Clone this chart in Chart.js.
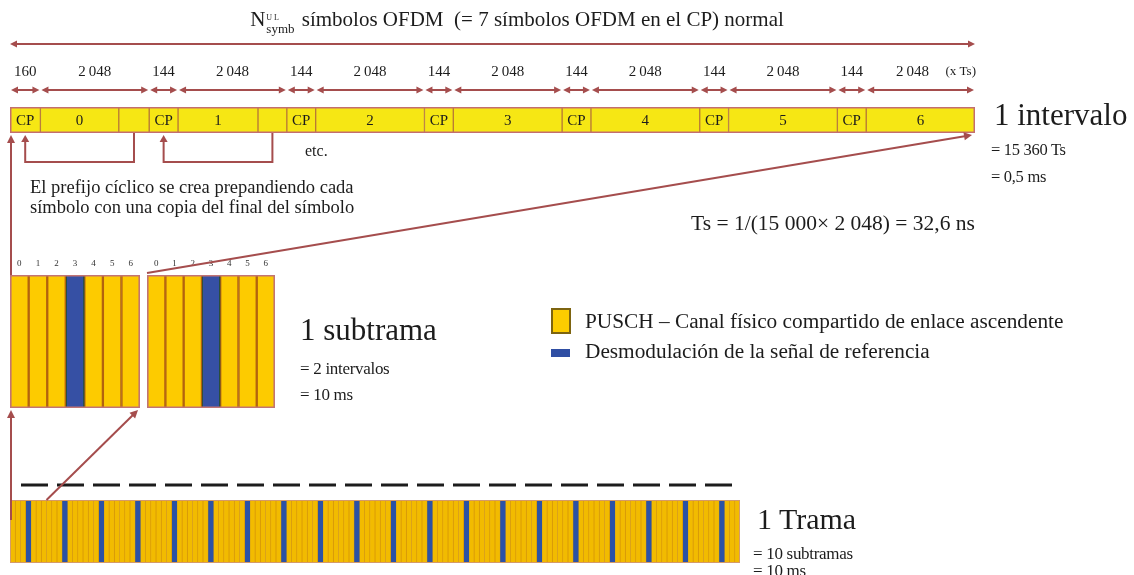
<!doctype html>
<html lang="es">
<head>
<meta charset="utf-8">
<title>Estructura de trama PUSCH</title>
<script src="https://cdn.jsdelivr.net/npm/chart.js@4.4.1/dist/chart.umd.min.js"></script>
<style>
    body { margin: 0; width: 1134px; height: 575px; position: relative; overflow: hidden; background: #fff;
           font-family: "Liberation Serif", "DejaVu Serif", serif; color: #1c1c1c; }
    canvas { position: absolute; }
    .t { position: absolute; white-space: nowrap; line-height: 1; }
    .ss { display: inline-block; vertical-align: -7px; line-height: 1; text-align: left; margin: 0 2px 0 1px; }
    .ss span { display: block; }
    .box { position: absolute; }
    .note { letter-spacing: -0.3px; }
</style>
</head>
<body>

<canvas id="slot" width="1134" height="200" style="left:0;top:0"></canvas>
<canvas id="subA" width="145" height="165" style="left:0;top:250px"></canvas>
<canvas id="subB" width="140" height="165" style="left:145px;top:250px"></canvas>
<canvas id="frame" width="760" height="100" style="left:0;top:475px"></canvas>
<canvas id="links" width="1134" height="575" style="left:0;top:0"></canvas>

<div class="t" style="left:0;width:1034px;text-align:center;top:9px;font-size:21px">N<span class="ss"><span style="font-size:8px;letter-spacing:2px">UL</span><span style="font-size:13px">symb</span></span> símbolos OFDM&nbsp; (= 7 símbolos OFDM en el CP) normal</div>

<div class="t" style="left:305px;top:143px;font-size:16px">etc.</div>
<div class="t" style="left:30px;top:177px;font-size:18.5px;line-height:20px">El prefijo cíclico se crea prepandiendo cada<br>símbolo con una copia del final del símbolo</div>

<div class="t" style="left:994px;top:99px;font-size:31px">1 intervalo</div>
<div class="t note" style="left:991px;top:142px;font-size:16.5px">= 15 360 Ts</div>
<div class="t note" style="left:991px;top:169px;font-size:16.5px">= 0,5 ms</div>
<div class="t" style="right:159px;top:213px;font-size:21.5px">Ts = 1/(15 000× 2 048) = 32,6 ns</div>

<div class="t" style="left:300px;top:314px;font-size:31px">1 subtrama</div>
<div class="t note" style="left:300px;top:360px;font-size:17px">= 2 intervalos</div>
<div class="t note" style="left:300px;top:386px;font-size:17px">= 10 ms</div>

<div class="box" style="left:551px;top:308px;width:16px;height:22px;background:#fccc00;border:2px solid #7d6410"></div>
<div class="t" style="left:585px;top:311px;font-size:21.3px">PUSCH – Canal físico compartido de enlace ascendente</div>
<div class="box" style="left:551px;top:349px;width:19px;height:8px;background:#2f4ea3"></div>
<div class="t" style="left:585px;top:341px;font-size:21.3px">Desmodulación de la señal de referencia</div>

<div class="t" style="left:757px;top:504px;font-size:30px">1 Trama</div>
<div class="t note" style="left:753px;top:545px;font-size:17px">= 10 subtramas</div>
<div class="t note" style="left:753px;top:562px;font-size:17px">= 10 ms</div>

<script>
    // ---- datos (en Ts) ----
    var symbolIds = ['0', '1', '2', '3', '4', '5', '6'];
    var cpLen = [160, 144, 144, 144, 144, 144, 144];
    var symLen = [2048, 2048, 2048, 2048, 2048, 2048, 2048];
    var copyShown = [true, true, false, false, false, false, false];
    var dmrsSymbol = 3;
    var slotsPerSubframe = 2;
    var subframesPerFrame = 10;

    var LINE = '#a54d4d';
    var SERIF = '"Liberation Serif", "DejaVu Serif", serif';

    function fmt(n) {
        if (n < 1000) return String(n);
        return Math.floor(n / 1000) + '\u2009' + String(n % 1000).padStart(3, '0');
    }

    function head(ctx, x, y, ang, len, half) {
        ctx.save();
        ctx.translate(x, y);
        ctx.rotate(ang);
        ctx.beginPath();
        ctx.moveTo(0, 0);
        ctx.lineTo(-len, -half);
        ctx.lineTo(-len, half);
        ctx.closePath();
        ctx.fill();
        ctx.restore();
    }

    function dimArrow(ctx, x1, x2, y) {
        ctx.beginPath();
        ctx.moveTo(x1 + 4, y);
        ctx.lineTo(x2 - 4, y);
        ctx.stroke();
        head(ctx, x1, y, Math.PI, 7, 3.5);
        head(ctx, x2, y, 0, 7, 3.5);
    }

    // el intervalo se dibuja esquemático: ancho = raíz de la duración
    var slotSegs = [];
    symbolIds.forEach(function (id, i) {
        slotSegs.push({ kind: 'cp', sym: i, w: Math.sqrt(cpLen[i]) });
        if (copyShown[i]) {
            slotSegs.push({ kind: 'body', sym: i, w: Math.sqrt(symLen[i]) - Math.sqrt(cpLen[i]) });
            slotSegs.push({ kind: 'tail', sym: i, w: Math.sqrt(cpLen[i]) });
        } else {
            slotSegs.push({ kind: 'body', sym: i, w: Math.sqrt(symLen[i]) });
        }
    });
    var slotWidth = slotSegs.reduce(function (a, s) { return a + s.w; }, 0);

    function segSpan(chart, di) {
        var el = chart.getDatasetMeta(di).data[0];
        return [Math.min(el.base, el.x), Math.max(el.base, el.x)];
    }

    var slotDecor = {
        id: 'slotDecor',
        afterDatasetsDraw: function (chart) {
            var ctx = chart.ctx, a = chart.chartArea;
            var midY = (a.top + a.bottom) / 2;
            ctx.save();
            ctx.strokeStyle = '#c46e6e';
            ctx.lineWidth = 1.5;
            ctx.strokeRect(a.left + 0.75, a.top + 0.75, a.right - a.left - 1.5, a.bottom - a.top - 1.5);

            ctx.fillStyle = '#1c1c1c';
            ctx.font = '15px ' + SERIF;
            ctx.textAlign = 'center';
            ctx.textBaseline = 'middle';
            var groups = [], spans = {};
            slotSegs.forEach(function (s, di) {
                var sp = segSpan(chart, di);
                spans[s.kind + s.sym] = sp;
                if (s.kind === 'cp') ctx.fillText('CP', (sp[0] + sp[1]) / 2, midY + 1);
                if (s.kind === 'body') ctx.fillText(symbolIds[s.sym], (sp[0] + sp[1]) / 2, midY + 1);
                var key = s.kind === 'cp' ? 'cp' : 'sym';
                var last = groups[groups.length - 1];
                if (last && last.sym === s.sym && last.key === key) last.end = sp[1];
                else groups.push({ sym: s.sym, key: key, start: sp[0], end: sp[1],
                                   value: key === 'cp' ? cpLen[s.sym] : symLen[s.sym] });
            });

            // cotas
            ctx.strokeStyle = LINE;
            ctx.fillStyle = LINE;
            ctx.lineWidth = 2;
            groups.forEach(function (g) { dimArrow(ctx, g.start + 1, g.end - 1, a.top - 17); });
            dimArrow(ctx, a.left, a.right, a.top - 63);

            ctx.fillStyle = '#1c1c1c';
            ctx.font = '15px ' + SERIF;
            groups.forEach(function (g, k) {
                var cx = (g.start + g.end) / 2;
                if (k === groups.length - 1) cx -= 8;
                ctx.fillText(fmt(g.value), cx, a.top - 35);
            });
            ctx.textAlign = 'right';
            ctx.font = '13px ' + SERIF;
            ctx.fillText('(x Ts)', a.right + 1, a.top - 35);

            // copia del final del símbolo hacia el CP
            ctx.strokeStyle = LINE;
            ctx.fillStyle = LINE;
            ctx.lineWidth = 2;
            copyShown.forEach(function (shown, i) {
                if (!shown) return;
                var t = spans['tail' + i], c = spans['cp' + i];
                var tx = (t[0] + t[1]) / 2, cx = (c[0] + c[1]) / 2, yb = a.bottom + 29;
                ctx.beginPath();
                ctx.moveTo(tx, a.bottom);
                ctx.lineTo(tx, yb);
                ctx.lineTo(cx, yb);
                ctx.lineTo(cx, a.bottom + 8);
                ctx.stroke();
                head(ctx, cx, a.bottom + 2, -Math.PI / 2, 7, 4);
            });
            ctx.restore();
        }
    };

    var slotChart = new Chart(document.getElementById('slot'), {
        type: 'bar',
        data: {
            labels: ['intervalo'],
            datasets: slotSegs.map(function (s) {
                return {
                    label: s.kind + s.sym,
                    data: [s.w],
                    backgroundColor: '#f6e714',
                    borderColor: '#b97a36',
                    borderWidth: { left: 1, right: 1, top: 0, bottom: 0 },
                    borderSkipped: false,
                    barPercentage: 1,
                    categoryPercentage: 1
                };
            })
        },
        options: {
            indexAxis: 'y',
            responsive: false,
            animation: false,
            events: [],
            layout: { padding: { left: 10, right: 159, top: 107, bottom: 67 } },
            scales: {
                x: { stacked: true, display: false, min: 0, max: slotWidth },
                y: { stacked: true, display: false }
            },
            plugins: { legend: { display: false }, tooltip: { enabled: false } }
        },
        plugins: [slotDecor]
    });

    // ---- tiras de símbolos (subtrama y trama), ancho = duración en Ts ----
    function strip(canvasId, slots, pad, look, extra) {
        var ds = [];
        for (var k = 0; k < slots; k++) {
            symbolIds.forEach(function (id, i) {
                var dmrs = i === dmrsSymbol;
                ds.push({
                    label: 'slot ' + k + ' / ' + id,
                    data: [cpLen[i] + symLen[i]],
                    backgroundColor: dmrs ? look.blue : look.yellow,
                    borderColor: dmrs ? look.blueEdge : look.edge,
                    borderWidth: look.bw,
                    borderSkipped: false,
                    barPercentage: 1,
                    categoryPercentage: 1
                });
            });
        }
        var total = ds.reduce(function (a, d) { return a + d.data[0]; }, 0);
        return new Chart(document.getElementById(canvasId), {
            type: 'bar',
            data: { labels: ['simbolos'], datasets: ds },
            options: {
                indexAxis: 'y',
                responsive: false,
                animation: false,
                events: [],
                layout: { padding: pad },
                scales: {
                    x: { stacked: true, display: false, min: 0, max: total },
                    y: { stacked: true, display: false }
                },
                plugins: { legend: { display: false }, tooltip: { enabled: false } }
            },
            plugins: [extra]
        });
    }

    var subLook = { yellow: '#fdcb00', edge: '#b3630e', blue: '#3650a4', blueEdge: '#2a4f3a',
                    bw: { left: 1.5, right: 1.5, top: 0, bottom: 0 } };

    var subDecor = {
        id: 'subDecor',
        afterDatasetsDraw: function (chart) {
            var ctx = chart.ctx, a = chart.chartArea;
            ctx.save();
            ctx.strokeStyle = '#c27474';
            ctx.lineWidth = 1.5;
            ctx.strokeRect(a.left + 0.75, a.top + 0.75, a.right - a.left - 1.5, a.bottom - a.top - 1.5);
            ctx.fillStyle = '#333';
            ctx.font = '9px ' + SERIF;
            ctx.textAlign = 'center';
            ctx.textBaseline = 'middle';
            symbolIds.forEach(function (id, di) {
                var sp = segSpan(chart, di);
                ctx.fillText(id, (sp[0] + sp[1]) / 2, a.top - 11);
            });
            ctx.restore();
        }
    };

    var subA = strip('subA', 1, { left: 10, right: 5, top: 25, bottom: 7 }, subLook, subDecor);
    var subB = strip('subB', 1, { left: 2, right: 10, top: 25, bottom: 7 }, subLook, subDecor);

    var frameDecor = {
        id: 'frameDecor',
        afterDatasetsDraw: function (chart) {
            var ctx = chart.ctx, a = chart.chartArea;
            ctx.save();
            ctx.strokeStyle = '#d49a6a';
            ctx.lineWidth = 1;
            ctx.strokeRect(a.left + 0.5, a.top + 0.5, a.right - a.left - 1, a.bottom - a.top - 1);
            ctx.strokeStyle = '#1c1c1c';
            ctx.lineWidth = 3;
            ctx.setLineDash([27, 9]);
            ctx.beginPath();
            ctx.moveTo(a.left + 11, a.top - 15);
            ctx.lineTo(a.right, a.top - 15);
            ctx.stroke();
            ctx.restore();
        }
    };

    var frameLook = { yellow: '#f2bb00', edge: '#d4950a', blue: '#2b52a6', blueEdge: '#2b52a6',
                      bw: { left: 0.7, right: 0.7, top: 0, bottom: 0 } };
    var frame = strip('frame', slotsPerSubframe * subframesPerFrame,
                      { left: 10, right: 20, top: 25, bottom: 12 }, frameLook, frameDecor);

    // ---- enlaces entre niveles ----
    function pageArea(chart) {
        var c = chart.canvas, a = chart.chartArea;
        return { left: c.offsetLeft + a.left, right: c.offsetLeft + a.right,
                 top: c.offsetTop + a.top, bottom: c.offsetTop + a.bottom };
    }

    function link(ctx, x1, y1, x2, y2) {
        // flecha en (x2, y2)
        var ang = Math.atan2(y2 - y1, x2 - x1);
        ctx.beginPath();
        ctx.moveTo(x1, y1);
        ctx.lineTo(x2 - 6 * Math.cos(ang), y2 - 6 * Math.sin(ang));
        ctx.stroke();
        head(ctx, x2, y2, ang, 8, 4);
    }

    (function drawLinks() {
        var ctx = document.getElementById('links').getContext('2d');
        var s = pageArea(slotChart), a = pageArea(subA), b = pageArea(subB), f = pageArea(frame);
        var slotEnd = frame.canvas.offsetLeft +
            frame.scales.x.getPixelForValue(frame.data.datasets.slice(0, symbolIds.length)
                .reduce(function (t, d) { return t + d.data[0]; }, 0));
        ctx.strokeStyle = LINE;
        ctx.fillStyle = LINE;
        ctx.lineWidth = 2;
        link(ctx, a.left + 1, a.top, a.left + 1, s.bottom + 2);
        link(ctx, b.left, b.top - 2, s.right - 3, s.bottom + 2);
        link(ctx, a.left + 1, f.top + 20, a.left + 1, a.bottom + 2);
        link(ctx, slotEnd, f.top, a.right - 2, a.bottom + 2);
    })();
</script>
</body>
</html>
